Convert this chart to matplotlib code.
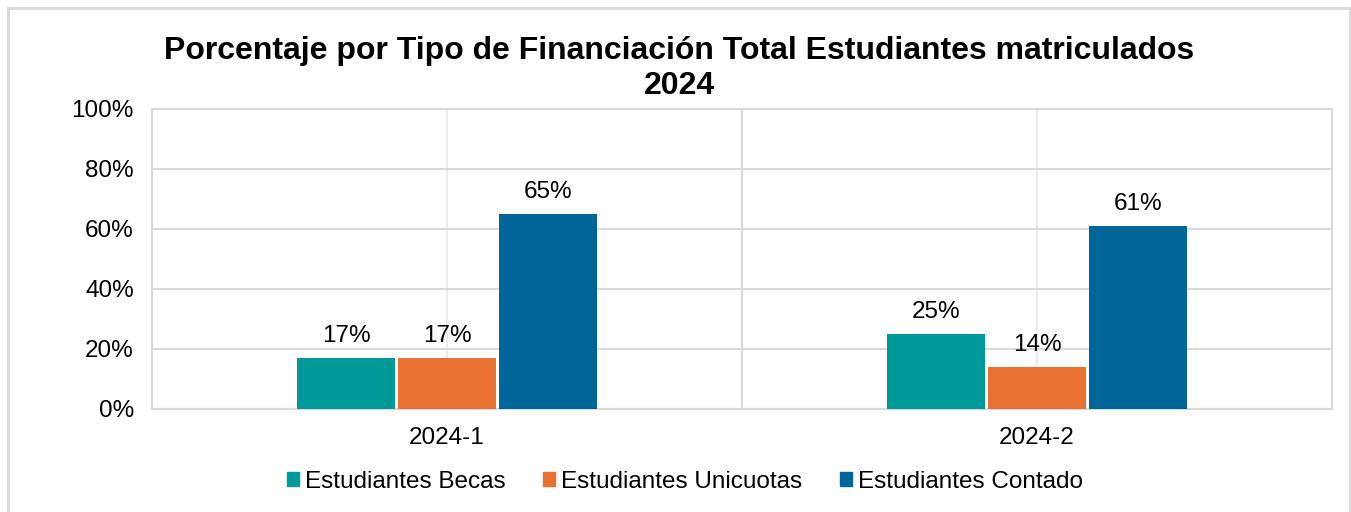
import matplotlib.pyplot as plt
from matplotlib.lines import Line2D
from matplotlib.patches import Patch
from matplotlib.ticker import PercentFormatter
import numpy as np

plt.rcParams['font.family'] = ['Liberation Sans', 'DejaVu Sans']

# Data
periodos = ["2024-1", "2024-2"]
series = ["Estudiantes Becas", "Estudiantes Unicuotas", "Estudiantes Contado"]
becas = [17, 25]
unicuotas = [17, 14]
contado = [65, 61]
colores = ["#009999", "#E97132", "#006699"]

fig = plt.figure(figsize=(13.51, 5.12), dpi=100)
ax = fig.add_axes([0.1125, 0.2012, 0.8735, 0.586])

x = np.arange(len(periodos))
ancho = 0.166
paso = 0.171
for k, (vals, color, nombre) in enumerate(zip([becas, unicuotas, contado], colores, series)):
    barras = ax.bar(x + (k - 1) * paso, vals, width=ancho, color=color, label=nombre, zorder=3)
    for b, v in zip(barras, vals):
        ax.annotate(f"{v}%", (b.get_x() + b.get_width() / 2, v), xytext=(0, 8),
                    textcoords="offset points", ha="center", va="bottom", fontsize=17.5)

ax.set_xlim(-0.5, 1.5)
ax.set_ylim(0, 100)
ax.set_yticks(np.arange(0, 101, 20))
ax.yaxis.set_major_formatter(PercentFormatter(decimals=0))
ax.set_xticks(x)
ax.set_xticklabels(periodos)
ax.tick_params(axis="both", length=0, labelsize=17.5)
ax.tick_params(axis="y", pad=13)
ax.tick_params(axis="x", pad=13)

# Gridlines
ax.grid(axis="y", color="#D9D9D9", linewidth=1.5, zorder=0)
for xv in [0, 1]:
    ax.axvline(xv, color="#EBEBEB", linewidth=1.5, zorder=0)
ax.axvline(0.5, color="#D9D9D9", linewidth=1.5, zorder=0)
for s in ax.spines.values():
    s.set_color("#D9D9D9")
    s.set_linewidth(1.5)

fig.text(0.503, 0.867, "Porcentaje por Tipo de Financiación Total Estudiantes matriculados\n2024",
         ha="center", va="center", fontsize=23, fontweight="bold", linespacing=1.22)

handles = [Patch(color=c) for c in colores]
fig.legend(handles, series, loc="center", bbox_to_anchor=(0.507, 0.059), ncol=3, frameon=False,
           fontsize=17.5, handlelength=0.5, handleheight=0.5, handletextpad=0.25, columnspacing=1.55)

# Outer chart border
borde = dict(color="#D9D9D9", linewidth=2, transform=fig.transFigure)
fig.add_artist(Line2D([8 / 1351, 8 / 1351], [0, 504.5 / 512], **borde))
fig.add_artist(Line2D([8 / 1351, 1349.5 / 1351], [504.5 / 512, 504.5 / 512], **borde))
fig.add_artist(Line2D([1349.5 / 1351, 1349.5 / 1351], [0, 504.5 / 512], **borde))

fig.savefig("out.png", dpi=100)
